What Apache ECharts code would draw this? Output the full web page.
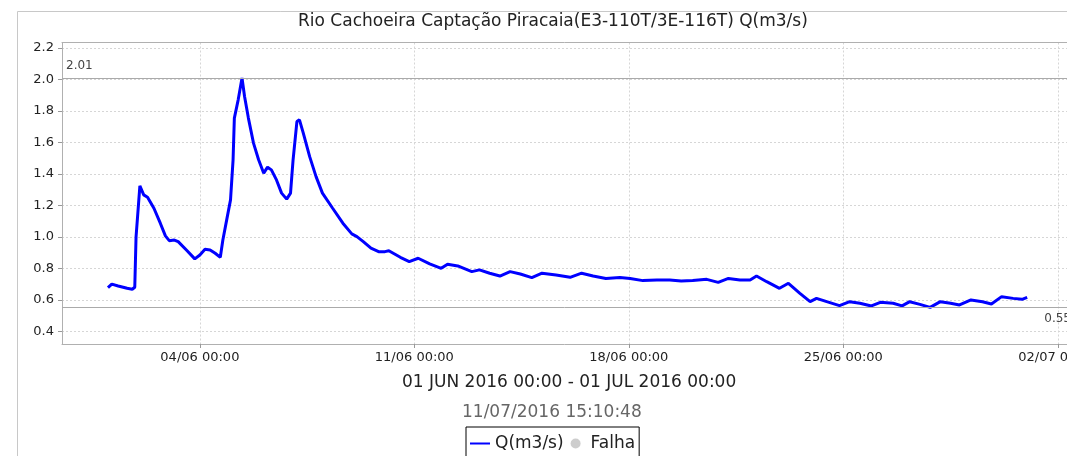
<!DOCTYPE html>
<html>
<head>
<meta charset="utf-8">
<script src="https://cdn.jsdelivr.net/npm/echarts@6/dist/echarts.min.js"></script>
<style>
    html, body { margin: 0; padding: 0; background: #fff; overflow: hidden; }
    #chart { width: 1067px; height: 456px; }
</style>
</head>
<body>
<div id="chart"></div>
<script>
// horas desde 01/06/2016 00:00
var hours = [0, 3, 8, 15, 19, 21, 22, 25, 28, 31, 36, 41, 45, 48, 52, 55, 62, 68, 72, 76,
    80, 84, 88, 90, 93, 96, 98, 99, 102, 105, 107, 110, 114, 118, 122, 125, 128, 132, 136, 140,
    143, 145, 148, 150, 153, 158, 163, 168, 176, 184, 191, 195, 200, 206, 212, 217, 220, 229, 236, 243,
    252, 261, 266, 274, 285, 291, 299, 307, 315, 323, 332, 340, 351, 362, 371, 380, 390, 401, 409, 419,
    430, 440, 449, 458, 469, 478, 486, 495, 503, 508, 516, 526, 533, 542, 550, 555, 563, 573, 581, 589,
    598, 605, 615, 622, 628, 636, 644, 652, 660, 667, 676, 685, 692, 700, 709, 716, 720];
var vazao = [0.677, 0.70, 0.688, 0.673, 0.667, 0.68, 1.00, 1.324, 1.267, 1.252, 1.182, 1.087, 1.006, 0.976, 0.98, 0.97, 0.912, 0.86, 0.885, 0.921,
    0.917, 0.896, 0.87, 0.98, 1.108, 1.235, 1.49, 1.755, 1.871, 2.01, 1.892, 1.755, 1.596, 1.49, 1.405, 1.443, 1.426, 1.362, 1.278, 1.24,
    1.278, 1.49, 1.733, 1.744, 1.66, 1.51, 1.383, 1.278, 1.182, 1.087, 1.019, 1.002, 0.97, 0.928, 0.906, 0.906, 0.912, 0.87, 0.843, 0.864,
    0.828, 0.80, 0.826, 0.815, 0.779, 0.79, 0.769, 0.751, 0.779, 0.764, 0.741, 0.769, 0.758, 0.743, 0.769, 0.751, 0.736, 0.741, 0.736, 0.722,
    0.726, 0.726, 0.72, 0.722, 0.73, 0.711, 0.736, 0.726, 0.726, 0.751, 0.715, 0.673, 0.705, 0.641, 0.588, 0.609, 0.588, 0.563, 0.588, 0.578,
    0.561, 0.584, 0.578, 0.561, 0.588, 0.571, 0.552, 0.588, 0.578, 0.567, 0.599, 0.588, 0.573, 0.62, 0.609, 0.603, 0.616];
var yTicks = [0.4, 0.6, 0.8, 1.0, 1.2, 1.4, 1.6, 1.8, 2.0, 2.2];
var xTicks = ['2016-06-04 00:00', '2016-06-11 00:00', '2016-06-18 00:00', '2016-06-25 00:00', '2016-07-02 00:00'];
var marcadores = [2.01, 0.55];

(function () {
    var myChart = echarts.init(document.getElementById('chart'));
    function ms(s) { return +echarts.time.parse(s); }
    var inicio = ms('2016-06-01 00:00');
    var dados = hours.map(function (h, i) { return [inicio + h * 3600 * 1000, vazao[i]]; });
    var xTickValues = xTicks.map(ms);
    // o gráfico original está cortado na margem direita
    var xMin = ms('2016-05-30 12:00');
    var xMax = ms('2016-07-02 07:12');
    var fonte = 'DejaVu Sans';
    var borda = { show: true, lineStyle: { color: '#b0b0b0', width: 1 } };

    var option = {
        animation: false,
        backgroundColor: '#fff',
        textStyle: { fontFamily: fonte },
        title: [
            {
                text: 'Rio Cachoeira Captação Piracaia(E3-110T/3E-116T) Q(m3/s)',
                left: 298, top: 13, padding: 0,
                textStyle: { fontSize: 17, fontWeight: 'normal', color: '#222', fontFamily: fonte }
            },
            {
                text: '01 JUN 2016 00:00 - 01 JUL 2016 00:00',
                left: 402, top: 374, padding: 0,
                textStyle: { fontSize: 17, fontWeight: 'normal', color: '#222', fontFamily: fonte }
            },
            {
                text: '11/07/2016 15:10:48',
                left: 462, top: 404, padding: 0,
                textStyle: { fontSize: 17, fontWeight: 'normal', color: '#666', fontFamily: fonte }
            }
        ],
        legend: {
            left: 466, top: 427,
            padding: [8, 4, 10, 4],
            itemGap: 7,
            itemWidth: 20,
            itemHeight: 10,
            borderColor: '#000',
            borderWidth: 1,
            textStyle: { fontSize: 17, color: '#222', fontFamily: fonte },
            data: [
                { name: 'Q(m3/s)', icon: 'path://M0,0 L0,0 M0,4 L20,4 L20,6 L0,6 Z M20,10 L20,10' },
                { name: 'Falha', icon: 'circle' }
            ]
        },
        graphic: [{
            type: 'rect', silent: true, z: -10,
            shape: { x: 17.5, y: 11.5, width: 1200, height: 600 },
            style: { fill: 'none', stroke: '#c8c8c8', lineWidth: 1 }
        }],
        grid: {
            left: 62, top: 42.5, right: 0, bottom: 112,
            outerBoundsMode: 'none',
            containLabel: false,
            show: false
        },
        xAxis: [
            {
                type: 'value',
                min: xMin,
                max: xMax,
                axisLine: borda,
                axisTick: { show: true, length: 4, customValues: xTickValues, lineStyle: { color: '#999' } },
                axisLabel: {
                    customValues: xTickValues,
                    margin: 7,
                    fontSize: 13,
                    color: '#222',
                    hideOverlap: false,
                    formatter: function (v) { return echarts.time.format(v, '{dd}/{MM} {HH}:{mm}', false); }
                },
                splitLine: { show: true, lineStyle: { color: '#d6d6d6', type: [2, 2] } }
            },
            {
                // só a borda de cima
                type: 'value',
                position: 'top',
                min: xMin,
                max: xMax,
                axisLine: borda,
                axisTick: { show: false },
                axisLabel: { show: false },
                splitLine: { show: false }
            }
        ],
        yAxis: {
            type: 'value',
            min: 0.319,
            max: 2.2356,
            axisLine: borda,
            axisTick: { show: true, length: 4, customValues: yTicks, lineStyle: { color: '#999' } },
            axisLabel: {
                customValues: yTicks,
                margin: 8,
                fontSize: 13,
                color: '#222',
                formatter: function (v) { return v.toFixed(1); }
            },
            splitLine: { show: true, lineStyle: { color: '#d6d6d6', type: [2, 2] } }
        },
        series: [
            {
                name: 'Q(m3/s)',
                type: 'line',
                symbol: 'none',
                data: dados,
                lineStyle: { color: '#0000ff', width: 3 },
                itemStyle: { color: '#0000ff' },
                markLine: {
                    silent: true,
                    symbol: 'none',
                    lineStyle: { color: '#aaaaaa', type: 'solid', width: 1 },
                    data: [
                        { yAxis: marcadores[0], label: { position: 'insideStartTop', distance: [4, 6] } },
                        { yAxis: marcadores[1], label: { position: 'insideEndBottom', distance: [-4, 5] } }
                    ],
                    label: { fontSize: 12, color: '#444', fontFamily: fonte }
                }
            },
            {
                name: 'Falha',
                type: 'scatter',
                data: [],
                itemStyle: { color: '#c0c0c0' }
            }
        ]
    };
    myChart.setOption(option);
})();
</script>
</body>
</html>
